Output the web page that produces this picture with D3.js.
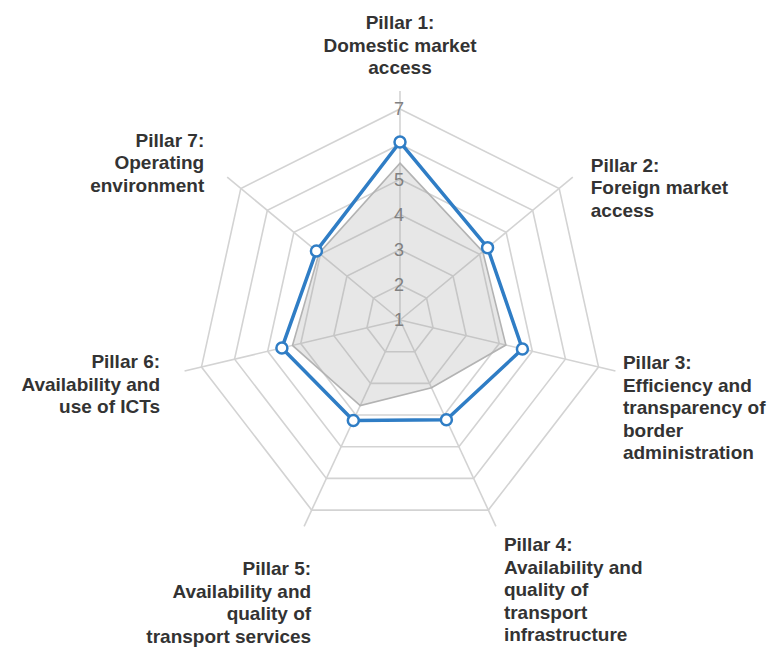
<!DOCTYPE html>
<html>
<head>
<meta charset="utf-8">
<script src="https://cdn.jsdelivr.net/npm/d3@7"></script>
<style>
  html, body { margin: 0; padding: 0; background: #fff; }
  svg { display: block; }
  .axis-label { font-family: "Liberation Sans", Arial, sans-serif; font-weight: bold; font-size: 19px; fill: #333; }
  .tick-label { font-family: "Liberation Sans", Arial, sans-serif; font-size: 18px; fill: #808080; }
</style>
</head>
<body>
<div id="chart"></div>
<script>
// Pillars (one per spoke), each label split into lines
const pillars = [
    ["Pillar 1:", "Domestic market", "access"],
    ["Pillar 2:", "Foreign market", "access"],
    ["Pillar 3:", "Efficiency and", "transparency of", "border", "administration"],
    ["Pillar 4:", "Availability and", "quality of", "transport", "infrastructure"],
    ["Pillar 5:", "Availability and", "quality of", "transport services"],
    ["Pillar 6:", "Availability and", "use of ICTs"],
    ["Pillar 7:", "Operating", "environment"]
];

// Scores (1-7 scale)
const countryScores = [6.06, 4.3, 4.7, 4.15, 4.17, 4.57, 4.15];
const comparatorScores = [5.46, 4.12, 4.2, 3.14, 3.7, 4.25, 4.05];

const ringValues = [2, 3, 4, 5, 6, 7];
const tickLabels = [1, 2, 3, 4, 5, 7];
const scaleMin = 1, scaleMax = 7;

// layout
const width = 776, height = 647;
const cx = 400, cy = 320;
const outerR = 211;
const spokeR = 229;
const kx = 0.965; // the reference is slightly squeezed horizontally
const lineH = 22.5;

// label placement relative to spoke end: text-anchor, dx, dy (first baseline)
const labelLayout = [
    { anchor: 'middle', dx: 0, dy: -62 },
    { anchor: 'start', dx: 18, dy: -5.5 },
    { anchor: 'start', dx: 7.5, dy: -1.5 },
    { anchor: 'start', dx: 8, dy: 25 },
    { anchor: 'end', dx: 7, dy: 49 },
    { anchor: 'end', dx: -24.5, dy: -2.5 },
    { anchor: 'end', dx: -23, dy: -30.5 }
];

const n = pillars.length;
const r = d3.scaleLinear().domain([scaleMin, scaleMax]).range([0, outerR]);
const angle = d3.scaleLinear().domain([0, n]).range([0, 2 * Math.PI]);

const px = (i, rad) => cx + rad * Math.sin(angle(i)) * kx;
const py = (i, rad) => cy - rad * Math.cos(angle(i));

const svg = d3.select('#chart').append('svg')
    .attr('width', width)
    .attr('height', height);

const idx = d3.range(n);

// grid rings
const ringLine = d3.line()
    .x(d => d[0])
    .y(d => d[1])
    .curve(d3.curveLinearClosed);

svg.append('g')
    .selectAll('path')
    .data(ringValues)
    .join('path')
    .attr('d', v => ringLine(idx.map(i => [px(i, r(v)), py(i, r(v))])))
    .attr('fill', 'none')
    .attr('stroke', '#d3d3d3')
    .attr('stroke-width', 1.6);

// spokes
svg.append('g')
    .selectAll('line')
    .data(idx)
    .join('line')
    .attr('x1', cx)
    .attr('y1', cy)
    .attr('x2', i => px(i, spokeR))
    .attr('y2', i => py(i, spokeR))
    .attr('stroke', '#d3d3d3')
    .attr('stroke-width', 1.6);

const seriesLine = d3.line()
    .x((d, i) => px(i, r(d)))
    .y((d, i) => py(i, r(d)))
    .curve(d3.curveLinearClosed);

// comparator area
svg.append('path')
    .datum(comparatorScores)
    .attr('d', seriesLine)
    .attr('fill', 'rgba(160,160,160,0.25)')
    .attr('stroke', '#b3b3b3')
    .attr('stroke-width', 1.6);

// tick labels
svg.append('g')
    .selectAll('text')
    .data(tickLabels)
    .join('text')
    .attr('class', 'tick-label')
    .attr('x', cx - 1)
    .attr('y', v => cy - r(v))
    .attr('dy', '0.36em')
    .attr('text-anchor', 'middle')
    .text(v => v);

// country line
svg.append('path')
    .datum(countryScores)
    .attr('d', seriesLine)
    .attr('fill', 'none')
    .attr('stroke', '#2f7dc5')
    .attr('stroke-width', 3.5)
    .attr('stroke-linejoin', 'round');

svg.append('g')
    .selectAll('circle')
    .data(countryScores)
    .join('circle')
    .attr('cx', (d, i) => px(i, r(d)))
    .attr('cy', (d, i) => py(i, r(d)))
    .attr('r', 5.5)
    .attr('fill', '#fff')
    .attr('stroke', '#2f7dc5')
    .attr('stroke-width', 2.5);

// pillar labels
const labels = svg.append('g')
    .selectAll('text')
    .data(pillars)
    .join('text')
    .attr('class', 'axis-label')
    .attr('text-anchor', (d, i) => labelLayout[i].anchor)
    .attr('x', (d, i) => px(i, spokeR) + labelLayout[i].dx)
    .attr('y', (d, i) => py(i, spokeR) + labelLayout[i].dy);

labels.selectAll('tspan')
    .data((d, i) => d.map(line => ({ line, i })))
    .join('tspan')
    .attr('x', d => px(d.i, spokeR) + labelLayout[d.i].dx)
    .attr('dy', (d, j) => j === 0 ? 0 : lineH)
    .text(d => d.line);
</script>
</body>
</html>
